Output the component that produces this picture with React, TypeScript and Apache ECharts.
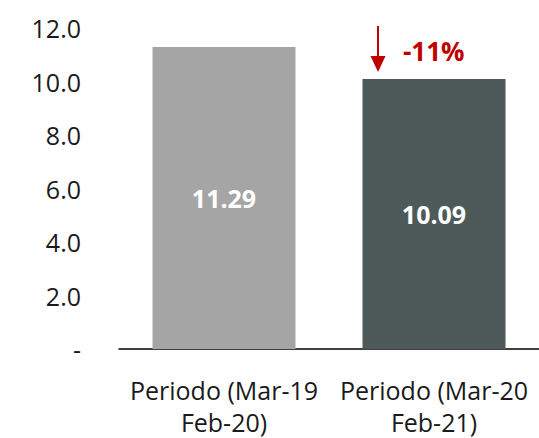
import React, { useEffect, useRef } from "react";
import * as echarts from "echarts";

const categories = ["Periodo (Mar-19\nFeb-20)", "Periodo (Mar-20\nFeb-21)"];
const values = [11.29, 10.09];
const barColors = ["#a5a5a5", "#4e5a59"];
const changeLabel = "-11%";
const yTicks = [0, 2, 4, 6, 8, 10, 12];

export default function App() {
  const ref = useRef<HTMLDivElement>(null);
  useEffect(() => {
    if (!ref.current) return;
    const chart = echarts.init(ref.current, undefined, { renderer: "svg" });
    const font = "Open Sans";
    chart.setOption({
      animation: false,
      grid: { left: 119, right: -3, top: 28, bottom: 86 },
      xAxis: {
        type: "category",
        data: categories,
        axisLine: { lineStyle: { color: "#000", width: 1.5 } },
        axisTick: { show: false },
        axisLabel: {
          color: "#1a1a1a",
          fontSize: 25,
          fontFamily: font,
          lineHeight: 32,
          margin: 25,
          interval: 0,
        },
      },
      yAxis: {
        type: "value",
        min: yTicks[0],
        max: yTicks[yTicks.length - 1],
        interval: 2,
        splitLine: { show: false },
        axisLine: { show: false },
        axisTick: { show: false },
        axisLabel: {
          color: "#1a1a1a",
          fontSize: 25,
          fontFamily: font,
          margin: 38,
          formatter: (v: number) => (v === 0 ? "-" : v.toFixed(1)),
        },
      },
      series: [
        {
          type: "bar",
          barWidth: 143,
          data: values.map((v, i) => ({ value: v, itemStyle: { color: barColors[i] } })),
          label: {
            show: true,
            position: "inside",
            color: "#fff",
            fontSize: 25,
            fontWeight: "bold",
            fontFamily: font,
            formatter: (p: any) => p.value.toFixed(2),
          },
        },
      ],
    });
    const top = chart.convertToPixel({ gridIndex: 0 }, [1, values[1]]) as number[];
    const ax = top[0] - 56;
    const tipY = top[1] - 7;
    chart.setOption({
      graphic: [
        {
          type: "line",
          shape: { x1: ax, y1: tipY - 46, x2: ax, y2: tipY - 14 },
          style: { stroke: "#c00000", lineWidth: 2 },
        },
        {
          type: "polygon",
          shape: { points: [[ax - 7.5, tipY - 16], [ax + 7.5, tipY - 16], [ax, tipY]] },
          style: { fill: "#c00000" },
        },
        {
          type: "text",
          x: ax + 25,
          y: tipY - 21,
          style: {
            text: changeLabel,
            fill: "#c00000",
            fontSize: 26,
            fontWeight: "bold",
            fontFamily: font,
            verticalAlign: "middle",
          },
        },
      ],
    });
    return () => chart.dispose();
  }, []);
  return (
    <div
      ref={ref}
      style={{ position: "fixed", left: 0, top: 0, width: 539, height: 438, background: "#fff" }}
    />
  );
}
